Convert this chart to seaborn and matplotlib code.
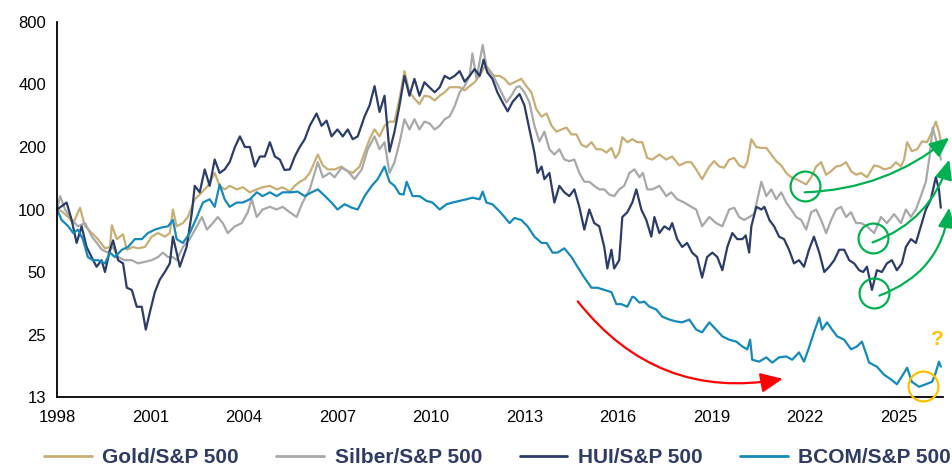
import matplotlib
matplotlib.use("Agg")
import matplotlib.pyplot as plt
from matplotlib.ticker import NullLocator
import pandas as pd
import seaborn as sns

# ---- data (index, 1998 = 100) ----
gold_years = [1998.0, 1998.15, 1998.36, 1998.52, 1998.74, 1998.9, 1999.12, 1999.31, 1999.54, 1999.7,
              1999.76, 1999.92, 2000.12, 2000.24, 2000.44, 2000.6, 2000.82, 2001.04, 2001.24, 2001.46,
              2001.62, 2001.72, 2001.84, 2002.04, 2002.2, 2002.42, 2002.65, 2002.84, 2003.06, 2003.22,
              2003.38, 2003.54, 2003.77, 2003.96, 2004.19, 2004.41, 2004.6, 2004.83, 2005.05, 2005.24,
              2005.47, 2005.63, 2005.79, 2005.95, 2006.11, 2006.37, 2006.53, 2006.69, 2006.91, 2007.13,
              2007.33, 2007.49, 2007.71, 2007.87, 2008.03, 2008.19, 2008.35, 2008.51, 2008.67, 2008.83,
              2008.99, 2009.15, 2009.31, 2009.47, 2009.63, 2009.79, 2009.95, 2010.12, 2010.28, 2010.44,
              2010.6, 2010.76, 2010.92, 2011.08, 2011.24, 2011.4, 2011.56, 2011.72, 2011.88, 2012.04,
              2012.2, 2012.36, 2012.52, 2012.68, 2012.9, 2013.06, 2013.22, 2013.38, 2013.55, 2013.71,
              2013.87, 2014.03, 2014.19, 2014.35, 2014.51, 2014.67, 2014.83, 2014.99, 2015.15, 2015.31,
              2015.47, 2015.63, 2015.79, 2015.92, 2016.04, 2016.14, 2016.3, 2016.46, 2016.62, 2016.78,
              2016.94, 2017.1, 2017.33, 2017.55, 2017.74, 2017.97, 2018.19, 2018.35, 2018.51, 2018.7,
              2018.93, 2019.09, 2019.25, 2019.41, 2019.57, 2019.73, 2019.89, 2020.05, 2020.15, 2020.28,
              2020.44, 2020.6, 2020.76, 2020.92, 2021.08, 2021.24, 2021.4, 2021.56, 2021.72, 2021.88,
              2022.04, 2022.2, 2022.36, 2022.52, 2022.68, 2022.84, 2023.0, 2023.16, 2023.32, 2023.48,
              2023.64, 2023.8, 2023.99, 2024.22, 2024.38, 2024.54, 2024.76, 2024.92, 2025.08, 2025.18,
              2025.28, 2025.43, 2025.6, 2025.76, 2025.92, 2026.08, 2026.2, 2026.3, 2026.36]
gold_vals = [100, 98, 92, 86, 102, 83, 77, 72, 65, 66,
             84, 72, 76, 64, 66, 65, 66, 74, 77, 74,
             77, 100, 83, 86, 92, 112, 121, 130, 150, 130,
             125, 130, 125, 128, 121, 125, 128, 130, 125, 128,
             122, 130, 136, 140, 150, 184, 163, 156, 156, 161,
             153, 150, 161, 188, 218, 243, 225, 253, 265, 265,
             342, 464, 367, 342, 322, 353, 350, 335, 353, 367,
             388, 388, 388, 375, 393, 410, 440, 488, 457, 440,
             440, 426, 400, 410, 426, 393, 367, 304, 280, 290,
             253, 237, 243, 248, 230, 230, 205, 200, 211, 195,
             195, 188, 198, 177, 188, 223, 211, 218, 211, 211,
             177, 174, 184, 174, 180, 163, 169, 169, 156, 140,
             161, 171, 161, 159, 174, 177, 163, 159, 169, 218,
             200, 198, 198, 184, 171, 163, 150, 143, 140, 136,
             132, 143, 161, 169, 147, 153, 161, 163, 169, 153,
             147, 150, 143, 163, 161, 156, 159, 169, 161, 174,
             211, 191, 195, 213, 211, 237, 265, 237, 213]

silver_years = [1998.0, 1998.1, 1998.26, 1998.48, 1998.67, 1998.9, 1999.12, 1999.28, 1999.44, 1999.63,
                1999.8, 1999.96, 2000.18, 2000.4, 2000.6, 2000.82, 2001.04, 2001.24, 2001.4, 2001.56,
                2001.72, 2001.84, 2002.04, 2002.26, 2002.49, 2002.65, 2002.81, 2003.0, 2003.16, 2003.32,
                2003.48, 2003.71, 2003.93, 2004.12, 2004.25, 2004.41, 2004.6, 2004.83, 2005.05, 2005.24,
                2005.47, 2005.69, 2005.88, 2006.11, 2006.37, 2006.53, 2006.75, 2006.91, 2007.13, 2007.33,
                2007.55, 2007.78, 2007.97, 2008.19, 2008.35, 2008.51, 2008.67, 2008.83, 2008.99, 2009.15,
                2009.31, 2009.47, 2009.63, 2009.79, 2009.95, 2010.12, 2010.28, 2010.44, 2010.6, 2010.76,
                2010.92, 2011.08, 2011.24, 2011.33, 2011.46, 2011.66, 2011.78, 2011.94, 2012.1, 2012.26,
                2012.42, 2012.58, 2012.74, 2012.84, 2013.0, 2013.16, 2013.32, 2013.48, 2013.64, 2013.8,
                2013.96, 2014.12, 2014.28, 2014.44, 2014.6, 2014.76, 2014.92, 2015.08, 2015.24, 2015.4,
                2015.56, 2015.72, 2015.88, 2016.04, 2016.2, 2016.37, 2016.53, 2016.69, 2016.8, 2016.94,
                2017.1, 2017.33, 2017.55, 2017.71, 2017.9, 2018.13, 2018.35, 2018.51, 2018.7, 2018.93,
                2019.15, 2019.35, 2019.57, 2019.73, 2019.89, 2020.05, 2020.21, 2020.37, 2020.6, 2020.76,
                2020.92, 2021.08, 2021.24, 2021.4, 2021.56, 2021.72, 2021.88, 2022.04, 2022.2, 2022.36,
                2022.52, 2022.68, 2022.84, 2023.0, 2023.16, 2023.32, 2023.48, 2023.64, 2023.8, 2023.99,
                2024.22, 2024.44, 2024.63, 2024.86, 2025.08, 2025.24, 2025.4, 2025.56, 2025.72, 2025.88,
                2026.0, 2026.1, 2026.2, 2026.3, 2026.36]
silver_vals = [100, 116, 100, 89, 83, 86, 74, 69, 64, 62,
               66, 59, 57, 57, 55, 56, 57, 59, 62, 59,
               59, 57, 66, 72, 83, 92, 80, 86, 92, 86,
               77, 83, 86, 97, 112, 92, 100, 103, 100, 103,
               97, 92, 108, 125, 169, 143, 150, 143, 159, 153,
               140, 156, 195, 225, 195, 211, 150, 169, 210, 272,
               243, 272, 243, 265, 260, 243, 253, 272, 281, 314,
               367, 393, 440, 565, 426, 620, 490, 457, 410, 367,
               328, 353, 388, 393, 367, 328, 253, 213, 237, 195,
               184, 195, 174, 171, 174, 150, 136, 136, 130, 125,
               125, 118, 116, 125, 130, 150, 156, 143, 150, 125,
               125, 130, 116, 121, 112, 108, 103, 100, 83, 92,
               86, 83, 100, 102, 92, 89, 92, 95, 136, 116,
               125, 112, 121, 108, 100, 92, 89, 80, 97, 100,
               89, 77, 89, 100, 103, 92, 97, 86, 86, 83,
               77, 92, 86, 95, 86, 100, 92, 100, 116, 136,
               180, 248, 218, 200, 174]

hui_years = [1998.0, 1998.31, 1998.47, 1998.63, 1998.79, 1998.95, 1999.11, 1999.27, 1999.43, 1999.54,
             1999.7, 1999.8, 1999.96, 2000.12, 2000.24, 2000.4, 2000.56, 2000.72, 2000.85, 2000.98,
             2001.14, 2001.3, 2001.46, 2001.62, 2001.72, 2001.84, 2001.94, 2002.16, 2002.33, 2002.42,
             2002.58, 2002.74, 2002.9, 2003.06, 2003.22, 2003.38, 2003.54, 2003.71, 2003.87, 2004.03,
             2004.19, 2004.35, 2004.51, 2004.67, 2004.83, 2004.99, 2005.15, 2005.3, 2005.47, 2005.63,
             2005.79, 2005.95, 2006.11, 2006.33, 2006.49, 2006.65, 2006.81, 2007.0, 2007.17, 2007.33,
             2007.49, 2007.65, 2007.87, 2008.03, 2008.19, 2008.35, 2008.51, 2008.67, 2008.83, 2008.99,
             2009.15, 2009.31, 2009.47, 2009.63, 2009.79, 2009.95, 2010.12, 2010.28, 2010.44, 2010.6,
             2010.76, 2010.92, 2011.08, 2011.24, 2011.4, 2011.56, 2011.69, 2011.81, 2011.97, 2012.13,
             2012.3, 2012.46, 2012.62, 2012.84, 2013.0, 2013.16, 2013.32, 2013.42, 2013.55, 2013.64,
             2013.8, 2013.96, 2014.12, 2014.28, 2014.44, 2014.6, 2014.76, 2014.92, 2015.08, 2015.24,
             2015.4, 2015.56, 2015.66, 2015.79, 2015.88, 2016.04, 2016.14, 2016.3, 2016.46, 2016.59,
             2016.75, 2016.91, 2017.07, 2017.17, 2017.33, 2017.49, 2017.65, 2017.74, 2017.9, 2018.06,
             2018.22, 2018.38, 2018.54, 2018.7, 2018.86, 2019.03, 2019.19, 2019.35, 2019.51, 2019.67,
             2019.83, 2019.99, 2020.1, 2020.21, 2020.28, 2020.44, 2020.6, 2020.7, 2020.86, 2021.01,
             2021.17, 2021.33, 2021.49, 2021.65, 2021.81, 2021.97, 2022.13, 2022.29, 2022.46, 2022.62,
             2022.78, 2022.94, 2023.1, 2023.26, 2023.42, 2023.58, 2023.74, 2023.87, 2023.99, 2024.15,
             2024.31, 2024.47, 2024.63, 2024.79, 2024.95, 2025.11, 2025.24, 2025.4, 2025.56, 2025.72,
             2025.88, 2026.04, 2026.2, 2026.3, 2026.36]
hui_vals = [100, 108, 89, 69, 83, 66, 59, 53, 57, 50,
            64, 71, 57, 55, 42, 41, 34, 34, 26.4, 32,
            40, 46, 50, 55, 74, 62, 53, 66, 97, 130,
            121, 156, 130, 174, 150, 156, 169, 200, 225, 200,
            200, 161, 180, 180, 211, 180, 174, 155, 156, 180,
            200, 218, 253, 290, 253, 268, 225, 243, 225, 243,
            218, 225, 281, 317, 393, 295, 353, 190, 237, 317,
            440, 353, 426, 353, 410, 388, 367, 388, 440, 426,
            440, 464, 413, 440, 475, 440, 527, 457, 426, 367,
            328, 297, 330, 360, 317, 243, 188, 150, 161, 140,
            150, 108, 130, 121, 116, 125, 103, 80, 100, 86,
            83, 66, 52, 64, 52, 57, 92, 97, 108, 125,
            100, 89, 74, 92, 77, 83, 80, 86, 72, 66,
            69, 62, 59, 47, 59, 62, 59, 51, 66, 77,
            72, 72, 75, 62, 83, 103, 100, 103, 89, 83,
            74, 72, 64, 55, 57, 53, 64, 74, 62, 50,
            53, 57, 64, 64, 57, 55, 51, 50, 53, 41,
            51, 50, 55, 57, 51, 55, 66, 72, 69, 83,
            100, 112, 143, 125, 102]

bcom_years = [1998.0, 1998.15, 1998.36, 1998.52, 1998.67, 1998.83, 1998.99, 1999.15, 1999.31, 1999.54,
              1999.7, 1999.86, 2000.08, 2000.28, 2000.5, 2000.72, 2000.92, 2001.14, 2001.37, 2001.56,
              2001.72, 2001.84, 2002.04, 2002.26, 2002.49, 2002.68, 2002.9, 2003.06, 2003.22, 2003.38,
              2003.54, 2003.77, 2003.96, 2004.19, 2004.41, 2004.6, 2004.83, 2005.05, 2005.24, 2005.53,
              2005.72, 2005.95, 2006.17, 2006.37, 2006.6, 2006.81, 2007.0, 2007.23, 2007.46, 2007.65,
              2007.87, 2008.1, 2008.29, 2008.51, 2008.67, 2008.83, 2008.99, 2009.12, 2009.22, 2009.41,
              2009.63, 2009.86, 2010.05, 2010.28, 2010.5, 2010.69, 2010.92, 2011.14, 2011.33, 2011.56,
              2011.66, 2011.78, 2011.97, 2012.2, 2012.36, 2012.52, 2012.68, 2012.9, 2013.1, 2013.32,
              2013.55, 2013.71, 2013.9, 2014.06, 2014.28, 2014.51, 2014.7, 2014.92, 2015.15, 2015.34,
              2015.56, 2015.79, 2015.95, 2016.11, 2016.3, 2016.46, 2016.53, 2016.69, 2016.85, 2017.0,
              2017.23, 2017.42, 2017.65, 2017.87, 2018.06, 2018.29, 2018.51, 2018.7, 2018.93, 2019.15,
              2019.35, 2019.57, 2019.8, 2019.99, 2020.15, 2020.24, 2020.31, 2020.53, 2020.76, 2020.95,
              2021.17, 2021.4, 2021.59, 2021.81, 2021.97, 2022.13, 2022.29, 2022.46, 2022.55, 2022.71,
              2022.87, 2023.03, 2023.26, 2023.48, 2023.67, 2023.83, 2024.06, 2024.31, 2024.54, 2024.76,
              2024.95, 2025.11, 2025.28, 2025.43, 2025.66, 2025.88, 2026.08, 2026.2, 2026.3, 2026.36]
bcom_vals = [100, 89, 83, 77, 80, 72, 59, 57, 57, 55,
             62, 59, 64, 66, 72, 72, 77, 80, 82, 83,
             89, 72, 69, 77, 92, 108, 112, 103, 132, 112,
             103, 108, 108, 112, 121, 116, 121, 116, 121, 121,
             122, 116, 121, 125, 116, 108, 100, 106, 102, 100,
             116, 130, 140, 161, 136, 130, 119, 118, 136, 116,
             116, 110, 108, 100, 106, 108, 110, 112, 114, 112,
             122, 108, 106, 98, 92, 86, 91, 89, 83, 74,
             69, 69, 62, 62, 65, 59, 53, 47, 42, 42,
             41, 40, 35, 35, 34, 38, 37.7, 35.6, 36.0, 34.1,
             33.0, 30.5, 29.5, 28.9, 28.6, 29.5, 26.4, 25.6, 28.6, 26.4,
             24.5, 23.6, 23.1, 21.9, 21.2, 23.6, 18.9, 18.5, 19.4, 18.3,
             19.4, 19.6, 18.9, 20.5, 18.5, 21.6, 25.6, 30.2, 26.4, 28.6,
             26.4, 24.5, 23.6, 21.2, 21.9, 23.1, 18.3, 17.5, 16.0, 15.2,
             14.4, 15.7, 17.3, 14.8, 14.0, 14.4, 14.8, 16.4, 18.5, 17.5]

series_names = ["Gold/S&P 500", "Silber/S&P 500", "HUI/S&P 500", "BCOM/S&P 500"]
series_colors = ["#C8AE74", "#A8A8A8", "#2C3C69", "#1589BA"]

year_ticks = [1998, 2001, 2004, 2007, 2010, 2013, 2016, 2019, 2022, 2025]
value_ticks = [12.5, 25, 50, 100, 200, 400, 800]
value_tick_labels = ["13", "25", "50", "100", "200", "400", "800"]

# ---- long table for seaborn ----
frames = []
for name, yrs, vals in zip(series_names,
                           [gold_years, silver_years, hui_years, bcom_years],
                           [gold_vals, silver_vals, hui_vals, bcom_vals]):
    frames.append(pd.DataFrame({"year": yrs, "value": vals, "series": name}))
df = pd.concat(frames, ignore_index=True)

sns.set_style("white")
plt.rcParams["font.family"] = ["Liberation Sans", "DejaVu Sans"]

fig = plt.figure(figsize=(9.53, 4.68), dpi=100)
ax = fig.add_axes([0.0598, 0.1517, 0.9297, 0.8013])

sns.lineplot(data=df, x="year", y="value", hue="series", hue_order=series_names,
             palette=series_colors, estimator=None, sort=False, linewidth=1.6, ax=ax)

ax.set_yscale("log", base=2)
ax.set_ylim(12.5, 800)
ax.set_yticks(value_ticks)
ax.set_yticklabels(value_tick_labels)
ax.yaxis.set_minor_locator(NullLocator())
ax.set_xlim(1998, 2026.43)
ax.set_xticks(year_ticks)
ax.set_xticklabels([str(y) for y in year_ticks])
ax.set_xlabel("")
ax.set_ylabel("")

for side in ["top", "right"]:
    ax.spines[side].set_visible(False)
for side in ["left", "bottom"]:
    ax.spines[side].set_color("black")
    ax.spines[side].set_linewidth(1.3)
ax.tick_params(axis="both", direction="out", length=4, width=1.2, colors="black",
               labelsize=12, pad=4)
ax.tick_params(axis="x", pad=5)

# ---- legend below ----
sns.move_legend(ax, "center", bbox_to_anchor=(0.522, 0.022), bbox_transform=fig.transFigure,
                ncol=4, frameon=False, title=None, fontsize=15, handlelength=2.3,
                handletextpad=0.5, columnspacing=1.8)
leg = ax.get_legend()
for txt in leg.get_texts():
    txt.set_color("#2E3B63")
    txt.set_fontweight("bold")
for line in leg.get_lines():
    line.set_linewidth(2.0)

# ---- annotations ----
green = "#00B050"
circle_pts = [(2021.99, 130), (2024.17, 72.5), (2024.23, 39.4)]
for cx, cy in circle_pts:
    ax.plot([cx], [cy], marker="o", markersize=21.5, markerfacecolor="none",
            markeredgecolor=green, markeredgewidth=1.6, clip_on=False, zorder=5)

green_arrows = [((2021.99, 121), (2026.63, 222), 0.17),
                ((2024.17, 69.4), (2026.63, 174), 0.25),
                ((2024.39, 38.5), (2026.63, 102), 0.3)]
for start, end, rad in green_arrows:
    ax.annotate("", xy=end, xytext=start, xycoords="data", textcoords="data",
                annotation_clip=False,
                arrowprops=dict(arrowstyle="-|>,head_length=0.8,head_width=0.35",
                                connectionstyle=f"arc3,rad={rad}", color=green,
                                linewidth=1.6, shrinkA=0, shrinkB=0, mutation_scale=15),
                zorder=5)

ax.annotate("", xy=(2021.29, 15.3), xytext=(2014.71, 36.1), xycoords="data", textcoords="data",
            annotation_clip=False,
            arrowprops=dict(arrowstyle="-|>,head_length=0.9,head_width=0.4",
                            connectionstyle="arc3,rad=0.3", color="#FF0000",
                            linewidth=1.6, shrinkA=0, shrinkB=0, mutation_scale=15),
            zorder=5)

orange = "#FFC000"
ax.plot([2025.8], [14.2], marker="o", markersize=21.5, markerfacecolor="none",
        markeredgecolor=orange, markeredgewidth=1.6, clip_on=False, zorder=5)
ax.text(2026.24, 23.6, "?", color=orange, fontsize=15, fontweight="bold",
        ha="center", va="center", zorder=5)

fig.savefig("out.png", dpi=100)
